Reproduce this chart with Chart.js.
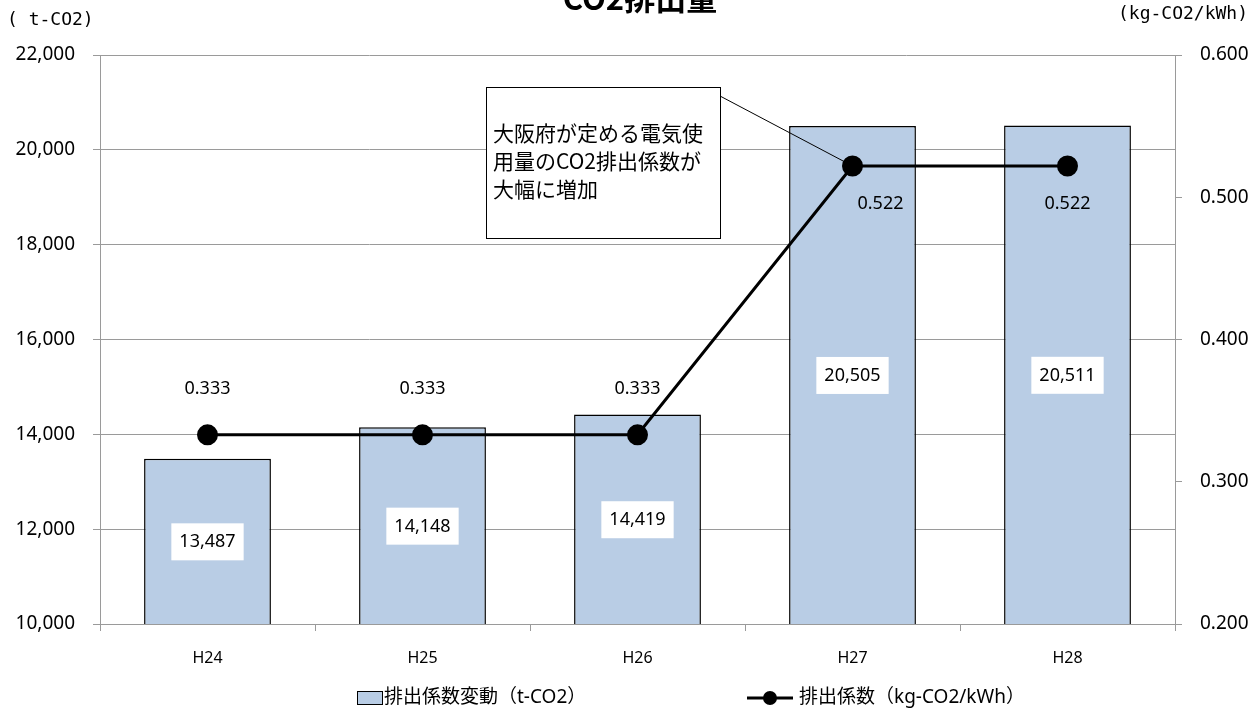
<!DOCTYPE html>
<html lang="ja">
<head>
<meta charset="UTF-8">
<title>CO2排出量</title>
<style>
    body { margin: 0; background: #fff; }
    #wrap { width: 1257px; height: 711px; position: relative; }
</style>
</head>
<body>
<div id="wrap"><canvas id="co2Chart" width="1257" height="711"></canvas></div>
<script src="https://cdn.jsdelivr.net/npm/chart.js"></script>
<script>
const categories = ['H24', 'H25', 'H26', 'H27', 'H28'];
const emissions = [13487, 14148, 14419, 20505, 20511];
const factors = [0.333, 0.333, 0.333, 0.522, 0.522];
const leftTicks = [10000, 12000, 14000, 16000, 18000, 20000, 22000];
const rightTicks = [0.2, 0.3, 0.4, 0.5, 0.6];
const barLabel = '排出係数変動（t-CO2）';
const lineLabel = '排出係数（kg-CO2/kWh）';
const noteLines = ['大阪府が定める電気使', '用量のCO2排出係数が', '大幅に増加'];

const numFont = '"Noto Sans", "Noto Sans CJK JP", sans-serif';
const jpFont = '"Noto Sans CJK JP", "Noto Sans", sans-serif';
const monoFont = '"DejaVu Sans Mono", "Noto Sans CJK JP", monospace';

// labels, title, legend, callout box
const extras = {
    id: 'extras',
    afterDatasetsDraw(chart) {
        const ctx = chart.ctx;
        const yScale = chart.scales.y;
        const barMeta = chart.getDatasetMeta(0);
        const lineMeta = chart.getDatasetMeta(1);
        const bottom = yScale.getPixelForValue(yScale.min);
        ctx.save();

        // bar value labels on white boxes
        ctx.font = '18px ' + numFont;
        ctx.textAlign = 'center';
        ctx.textBaseline = 'middle';
        barMeta.data.forEach((bar, i) => {
            const txt = emissions[i].toLocaleString('en-US');
            const cy = (bar.y + bottom) / 2;
            const w = ctx.measureText(txt).width + 16;
            ctx.fillStyle = '#fff';
            ctx.fillRect(bar.x - w / 2, cy - 18, w, 37);
            ctx.fillStyle = '#000';
            ctx.fillText(txt, bar.x, cy + 1);
        });

        // line value labels
        lineMeta.data.forEach((pt, i) => {
            const txt = factors[i].toFixed(3);
            let x = pt.x, y;
            if (factors[i] > 0.5) {
                y = pt.y + 38;
                if (i === 3) x += 28;
            } else {
                y = pt.y - 46;
            }
            ctx.fillStyle = '#000';
            ctx.fillText(txt, x, y);
        });

        // callout box with leader line
        const target = lineMeta.data[3];
        ctx.strokeStyle = '#000';
        ctx.lineWidth = 1;
        ctx.beginPath();
        ctx.moveTo(720, 96);
        ctx.lineTo(target.x, target.y);
        ctx.stroke();
        ctx.fillStyle = '#fff';
        ctx.fillRect(486, 87, 234, 151);
        ctx.strokeRect(486.5, 87.5, 234, 151);
        ctx.fillStyle = '#000';
        ctx.font = '21px ' + jpFont;
        ctx.textAlign = 'left';
        noteLines.forEach((l, i) => ctx.fillText(l, 493, 133 + i * 28));

        // title (cut at the top edge)
        ctx.font = 'bold 31px ' + jpFont;
        ctx.textAlign = 'center';
        ctx.textBaseline = 'alphabetic';
        ctx.fillText('CO2排出量', 640, 10);

        // axis unit labels
        ctx.font = '18px ' + monoFont;
        ctx.textAlign = 'left';
        ctx.textBaseline = 'middle';
        ctx.fillText('( t-CO2)', 7, 20);
        ctx.textAlign = 'right';
        ctx.fillText('(kg-CO2/kWh)', 1248, 14);

        // legend
        ctx.textAlign = 'left';
        ctx.font = '19px ' + numFont;
        ctx.fillStyle = '#b9cde5';
        ctx.fillRect(357, 691, 25, 13);
        ctx.strokeStyle = '#000';
        ctx.lineWidth = 1;
        ctx.strokeRect(357.5, 691.5, 25, 13);
        ctx.fillStyle = '#000';
        ctx.fillText(barLabel, 384, 698);
        ctx.lineWidth = 3;
        ctx.beginPath();
        ctx.moveTo(747, 698);
        ctx.lineTo(793, 698);
        ctx.stroke();
        ctx.beginPath();
        ctx.arc(770, 698, 7, 0, Math.PI * 2);
        ctx.fill();
        ctx.fillText(lineLabel, 799, 698);
        ctx.restore();
    }
};

const gridColor = '#9a9a9a';

new Chart(document.getElementById('co2Chart').getContext('2d'), {
    data: {
        labels: categories,
        datasets: [
            {
                type: 'bar',
                label: barLabel,
                data: emissions,
                yAxisID: 'y',
                backgroundColor: '#b9cde5',
                borderColor: '#000',
                borderWidth: 1.5,
                barPercentage: 0.59,
                categoryPercentage: 1,
                order: 2
            },
            {
                type: 'line',
                label: lineLabel,
                data: factors,
                yAxisID: 'y1',
                borderColor: '#000',
                borderWidth: 3,
                pointRadius: 9,
                pointBackgroundColor: '#000',
                pointBorderColor: '#000',
                tension: 0,
                order: 1
            }
        ]
    },
    options: {
        responsive: false,
        animation: false,
        layout: { padding: { top: 55, left: 0, right: 0, bottom: 0 } },
        plugins: {
            legend: { display: false },
            tooltip: { enabled: false }
        },
        scales: {
            x: {
                grid: { offset: true, drawOnChartArea: false, color: gridColor, tickLength: 7 },
                border: { color: gridColor },
                ticks: { color: '#000', font: { size: 16, family: numFont }, padding: 18 },
                afterFit(s) { s.height = 87; }
            },
            y: {
                position: 'left',
                min: 10000,
                max: 22000,
                afterBuildTicks(s) { s.ticks = leftTicks.map(v => ({ value: v })); },
                grid: { color: gridColor, tickLength: 7 },
                border: { color: gridColor },
                ticks: {
                    color: '#000',
                    font: { size: 19, family: numFont },
                    padding: 18,
                    callback: v => v.toLocaleString('en-US')
                },
                afterFit(s) { s.width = 100; }
            },
            y1: {
                position: 'right',
                min: 0.2,
                max: 0.6,
                afterBuildTicks(s) { s.ticks = rightTicks.map(v => ({ value: v })); },
                grid: { drawOnChartArea: false, color: gridColor, tickLength: 7 },
                border: { color: gridColor },
                ticks: {
                    color: '#000',
                    font: { size: 19, family: numFont },
                    padding: 18,
                    callback: v => v.toFixed(3)
                },
                afterFit(s) { s.width = 82; }
            }
        }
    },
    plugins: [extras]
});
</script>
</body>
</html>
